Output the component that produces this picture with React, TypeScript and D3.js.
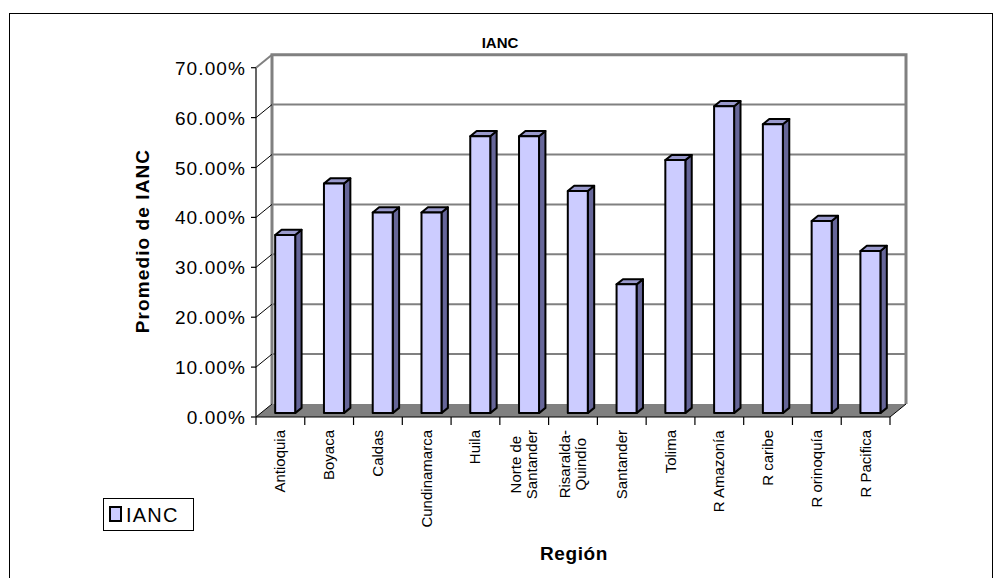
import * as d3 from "d3";

const categories = [
  ["Antioquia"],
  ["Boyaca"],
  ["Caldas"],
  ["Cundinamarca"],
  ["Huila"],
  ["Norte de", "Santander"],
  ["Risaralda-", "Quindío"],
  ["Santander"],
  ["Tolima"],
  ["R Amazonía"],
  ["R caribe"],
  ["R orinoquía"],
  ["R Pacifica"],
];
const values = [0.357, 0.46, 0.402, 0.402, 0.555, 0.555, 0.445, 0.258, 0.507, 0.615, 0.579, 0.385, 0.325];
const yTicks = [0, 0.1, 0.2, 0.3, 0.4, 0.5, 0.6, 0.7];

const FONT = "'Liberation Sans', Arial, sans-serif";
const DX = 16;
const DY = -13;
const LABEL_SIZE = 15;

let ctx: CanvasRenderingContext2D | null = null;
function textWidth(s: string) {
  if (!ctx) ctx = document.createElement("canvas").getContext("2d");
  if (!ctx) return s.length * LABEL_SIZE * 0.55;
  ctx.font = `${LABEL_SIZE}px 'Liberation Sans', Arial, sans-serif`;
  return ctx.measureText(s).width;
}

export default function App() {
  const W = 998;
  const H = 578;
  const x0 = 256;
  const x1 = 890;
  const keys = categories.map((c) => c.join(" "));
  const x = d3.scaleBand<string>().domain(keys).range([x0, x1]);
  const y = d3.scaleLinear().domain([0, 0.7]).range([417, 67.7]);
  const yBase = y(0);
  const bw = 20;
  // bars sit between 30% and 70% of the depth
  const fdx = DX * 0.3, fdy = DY * 0.3;
  const sdx = DX * 0.4, sdy = DY * 0.4;

  return (
    <svg width={W} height={H} style={{ position: "absolute", left: 0, top: 0, fontFamily: FONT }}>
      <rect x={0} y={0} width={W} height={H} fill="#fff" />
      <rect x={9.5} y={13.5} width={983} height={600} fill="none" stroke="#000" strokeWidth={1} />

      {/* floor */}
      <polygon
        points={`${x0},${yBase} ${x1},${yBase} ${x1 + DX},${yBase + DY} ${x0 + DX},${yBase + DY}`}
        fill="#808080"
      />
      {/* back wall grid */}
      {yTicks.slice(1, -1).map((t) => (
        <line key={t} x1={x0 + DX} x2={x1 + DX} y1={y(t) + DY} y2={y(t) + DY} stroke="#808080" strokeWidth={2} />
      ))}
      <path
        d={`M${x0 + DX},${yBase + DY} V${y(0.7) + DY} H${x1 + DX} V${yBase + DY}`}
        fill="none"
        stroke="#808080"
        strokeWidth={3}
      />

      {/* y axis */}
      <line x1={x0} x2={x0} y1={y(0.7)} y2={yBase} stroke="#000" strokeWidth={1.2} />
      {yTicks.map((t) => (
        <g key={t}>
          <line x1={x0 - 5} x2={x0} y1={y(t)} y2={y(t)} stroke="#000" strokeWidth={1.2} />
          <line
            x1={x0}
            y1={y(t)}
            x2={x0 + DX}
            y2={y(t) + DY}
            stroke={t === 0.7 ? "#808080" : "#000"}
            strokeWidth={t === 0.7 ? 2 : 1}
          />
          <text x={x0 - 10} y={y(t) + 7} textAnchor="end" fontSize={19} letterSpacing={1.1} fill="#000">
            {d3.format(".2%")(t)}
          </text>
        </g>
      ))}

      {/* x axis */}
      <line x1={x0} x2={x1} y1={yBase} y2={yBase} stroke="#000" strokeWidth={1.2} />
      <line x1={x1} y1={yBase} x2={x1 + DX} y2={yBase + DY} stroke="#000" strokeWidth={1} />
      {keys.map((k) => (
        <line key={k} x1={x(k)!} x2={x(k)!} y1={yBase} y2={yBase + 8} stroke="#000" strokeWidth={1.2} />
      ))}
      <line x1={x1} x2={x1} y1={yBase} y2={yBase + 8} stroke="#000" strokeWidth={1.2} />

      {/* bars */}
      {keys.map((k, i) => {
        const cx = x(k)! + x.bandwidth() / 2 + fdx;
        const l = cx - bw / 2;
        const r = cx + bw / 2;
        const b = yBase + fdy;
        const t = y(values[i]) + fdy;
        return (
          <g key={k} stroke="#000" strokeWidth={2} strokeLinejoin="round">
            <polygon points={`${r},${b} ${r + sdx},${b + sdy} ${r + sdx},${t + sdy} ${r},${t}`} fill="#666699" />
            <polygon points={`${l},${t} ${r},${t} ${r + sdx},${t + sdy} ${l + sdx},${t + sdy}`} fill="#9999cc" />
            <rect x={l} y={t} width={bw} height={b - t} fill="#ccccff" />
          </g>
        );
      })}

      {/* category labels, block right-aligned at the axis, lines centred */}
      {categories.map((lines, i) => {
        const cx = x(keys[i])! + x.bandwidth() / 2;
        const widest = Math.max(...lines.map(textWidth));
        const lineH = 16;
        const firstX = cx + 5 - ((lines.length - 1) * lineH) / 2;
        return (
          <g key={keys[i]}>
            {lines.map((s, j) => (
              <text
                key={s}
                transform={`translate(${firstX + j * lineH},${430 + widest / 2}) rotate(-90)`}
                textAnchor="middle"
                fontSize={LABEL_SIZE}
                fill="#000"
              >
                {s}
              </text>
            ))}
          </g>
        );
      })}

      <text x={500} y={48} textAnchor="middle" fontSize={15} fontWeight="bold">
        IANC
      </text>
      <text
        transform="translate(149,241) rotate(-90)"
        textAnchor="middle"
        fontSize={19}
        letterSpacing={1.1}
        fontWeight="bold"
      >
        Promedio de IANC
      </text>
      <text x={574} y={560} textAnchor="middle" fontSize={19} letterSpacing={0.6} fontWeight="bold">
        Región
      </text>

      {/* legend */}
      <rect x={103.5} y={498.5} width={90} height={32} fill="#fff" stroke="#000" strokeWidth={1} />
      <rect x={110} y={507} width={11} height={14} fill="#ccccff" stroke="#000" strokeWidth={2} />
      <text x={126} y={522} fontSize={20} letterSpacing={1.2} fill="#000">
        IANC
      </text>
    </svg>
  );
}
